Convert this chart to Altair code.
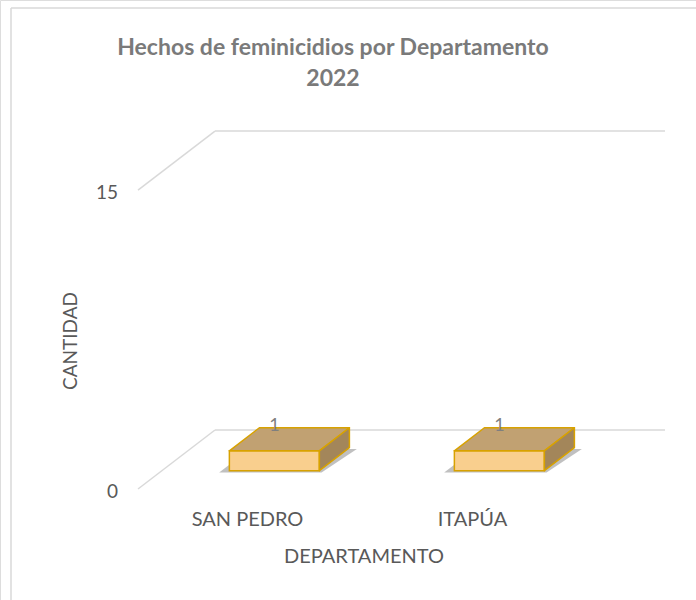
import altair as alt
import pandas as pd

# ---- data ----
departamentos = ["SAN PEDRO", "ITAPÚA"]
cantidades = [1, 1]
ticks = [0, 15]
titulo = ["Hechos de feminicidios por Departamento", "2022"]

# ---- projection / layout constants ----
W, H = 696, 600
X0 = 138        # pixel of front-left corner
BAND = 225      # pixels per category band on the front plane
Y0 = 489        # pixel of value 0 on the front plane
PXU = 19.93     # pixels per unit of value
DX = 77 / BAND  # depth offset (x units) for full depth
DY = 59 / PXU   # depth offset (value units) for full depth
D0, D1 = 0.31, 0.70
HW = 0.2

xs = alt.Scale(domain=[-X0 / BAND, (W - X0) / BAND], nice=False, zero=False)
ys = alt.Scale(domain=[-(H - Y0) / PXU, Y0 / PXU], nice=False, zero=False)
n = len(departamentos)

# gridlines
grid_rows = []
for t in ticks:
    grid_rows.append(dict(x=0, y=t, x2=DX, y2=t + DY))
    grid_rows.append(dict(x=DX, y=t + DY, x2=n + DX, y2=t + DY))
grid_df = pd.DataFrame(grid_rows)

front, top, side, shadow, labels = [], [], [], [], []
for i, (c, v) in enumerate(zip(departamentos, cantidades)):
    xl, xr = i + 0.5 - HW, i + 0.5 + HW
    front.append(dict(cat=c, x=xl + DX * D0, x2=xr + DX * D0, y=DY * D0, y2=v + DY * D0))
    for d in (D0, D1):
        top.append(dict(cat=c, y=v + DY * d, x=xl + DX * d, x2=xr + DX * d))
        side.append(dict(cat=c, x=xr + DX * d, y=DY * d, y2=v + DY * d))
    shadow.append(dict(cat=c, y=DY * (D0 - 0.03), x=xl - 0.035 + DX * (D0 - 0.03), x2=xr + 0.02 + DX * (D0 - 0.03)))
    shadow.append(dict(cat=c, y=DY * (D1 - 0.02), x=xl - 0.035 + DX * (D1 - 0.02), x2=xr + 0.04 + DX * (D1 - 0.02)))
    labels.append(dict(cat=c, v=str(v), x=i + 0.5 + DX * D0, y=v + DY * D1, xc=i + 0.5))

front_df = pd.DataFrame(front)
top_df = pd.DataFrame(top)
side_df = pd.DataFrame(side)
shadow_df = pd.DataFrame(shadow)
lab_df = pd.DataFrame(labels)
tick_df = pd.DataFrame({"t": ticks, "lab": [str(t) for t in ticks]})

X = lambda f: alt.X(f, type="quantitative", scale=xs, axis=None)
Y = lambda f: alt.Y(f, type="quantitative", scale=ys, axis=None)

STROKE = "#D8A200"
FONT = "Lato"

grid = alt.Chart(grid_df).mark_rule(color="#D9D9D9", strokeWidth=1.5).encode(
    x=X("x"), y=Y("y"), x2="x2", y2="y2")

shadow_l = alt.Chart(shadow_df).mark_area(orient="horizontal", color="#8c8c8c", opacity=0.55).encode(
    y=Y("y"), x=X("x"), x2="x2", detail="cat:N")

front_l = alt.Chart(front_df).mark_rect(fill="#F9CF8E", stroke=STROKE, strokeWidth=1.5).encode(
    x=X("x"), x2="x2", y=Y("y"), y2="y2")

top_l = alt.Chart(top_df).mark_area(orient="horizontal", fill="#C1A172", stroke=STROKE,
                                    strokeWidth=1.5, strokeJoin="round").encode(
    y=Y("y"), x=X("x"), x2="x2", detail="cat:N")

side_l = alt.Chart(side_df).mark_area(orient="vertical", fill="#A3865A", stroke=STROKE,
                                      strokeWidth=1.5, strokeJoin="round").encode(
    x=X("x"), y=Y("y"), y2="y2", detail="cat:N")

val_l = alt.Chart(lab_df).mark_text(font=FONT, fontSize=18, color="#7F7F7F", baseline="middle", dy=-2).encode(
    x=X("x"), y=Y("y"), text="v")

cat_l = alt.Chart(lab_df).mark_text(font=FONT, fontSize=20, color="#595959", baseline="middle", dx=-3).encode(
    x=X("xc"), y=alt.value(520), text="cat")

tick_l = alt.Chart(tick_df).mark_text(font=FONT, fontSize=19, color="#595959", align="right",
                                      baseline="middle", dy=3).encode(
    x=alt.value(118), y=Y("t"), text="lab")

title1 = alt.Chart(pd.DataFrame({"t": [titulo[0]]})).mark_text(
    font=FONT, fontSize=23, fontWeight="bold", color="#7A7A7A", baseline="alphabetic").encode(
    x=alt.value(333), y=alt.value(55), text="t")
title2 = alt.Chart(pd.DataFrame({"t": [titulo[1]]})).mark_text(
    font=FONT, fontSize=23, fontWeight="bold", color="#7A7A7A", baseline="alphabetic").encode(
    x=alt.value(333), y=alt.value(86), text="t")

ytitle = alt.Chart(pd.DataFrame({"t": ["CANTIDAD"]})).mark_text(
    font=FONT, fontSize=19, color="#595959", angle=270, baseline="middle").encode(
    x=alt.value(71), y=alt.value(341), text="t")

xtitle = alt.Chart(pd.DataFrame({"t": ["DEPARTAMENTO"]})).mark_text(
    font=FONT, fontSize=20, color="#595959", baseline="middle").encode(
    x=alt.value(364), y=alt.value(557), text="t")

border_v = alt.Chart(pd.DataFrame({"a": [0]})).mark_rule(color="#D9D9D9", strokeWidth=1.5).encode(
    x=alt.value(11), y=alt.value(8), y2=alt.value(600))
border_h = alt.Chart(pd.DataFrame({"a": [0]})).mark_rule(color="#D9D9D9", strokeWidth=1.5).encode(
    x=alt.value(11), x2=alt.value(696), y=alt.value(8))

chart = alt.layer(
    border_v, border_h, grid, shadow_l, front_l, top_l, side_l, val_l, cat_l, tick_l,
    title1, title2, ytitle, xtitle
).properties(
    width=W, height=H, autosize=alt.AutoSizeParams(type="none"), padding=0
).configure_view(stroke=None).configure(background="white")

chart.save("out.html", embed_options={"renderer": "svg", "actions": False})
